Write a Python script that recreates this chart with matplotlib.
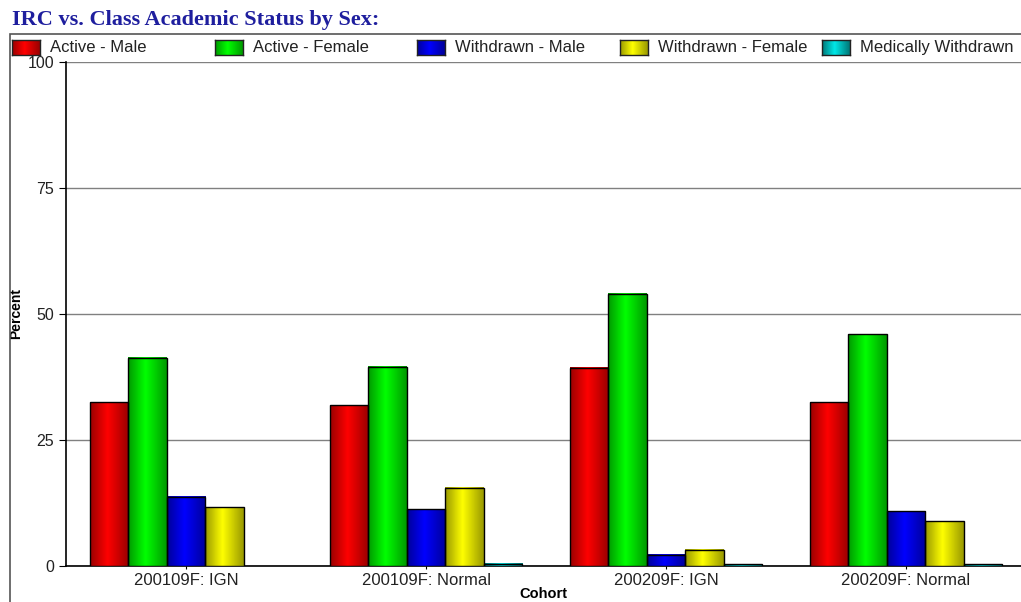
import numpy as np
import matplotlib.pyplot as plt
from matplotlib.colors import LinearSegmentedColormap
from matplotlib.patches import Rectangle

# dane
cohorts = ['200109F: IGN', '200109F: Normal', '200209F: IGN', '200209F: Normal']
series = ['Active - Male', 'Active - Female', 'Withdrawn - Male',
          'Withdrawn - Female', 'Medically Withdrawn']
active_male = [32.5, 31.9, 39.3, 32.5]
active_female = [41.3, 39.5, 54.0, 46.0]
withdrawn_male = [13.7, 11.3, 2.2, 10.9]
withdrawn_female = [11.7, 15.5, 3.2, 8.9]
medically_withdrawn = [0.0, 0.4, 0.3, 0.3]
values = [active_male, active_female, withdrawn_male, withdrawn_female, medically_withdrawn]

bright = ['#ff0000', '#00ff00', '#0000ff', '#ffff00', '#00e8e8']
dark = ['#9a0000', '#009a00', '#00009a', '#9a9a00', '#007878']

W, H = 1021, 602
fig = plt.figure(figsize=(W / 100, H / 100), dpi=100)
plt.rcParams['font.family'] = ['Liberation Sans', 'DejaVu Sans']

ax = fig.add_axes([66 / W, (H - 566) / H, (1021 - 66) / W, (566 - 62) / H])

x = np.arange(len(cohorts))
bw = 0.16
grad = np.linspace(0, 1, 64).reshape(1, -1)
cmaps = [LinearSegmentedColormap.from_list('g%d' % i, [(0, d), (0.45, b), (1, d)])
         for i, (b, d) in enumerate(zip(bright, dark))]
for i, vals in enumerate(values):
    pos = x - 2 * bw + i * bw
    bars = ax.bar(pos, vals, bw, color=bright[i], edgecolor='none', zorder=3)
    for r in bars:
        h = r.get_height()
        if h <= 0:
            continue
        ax.imshow(grad, extent=[r.get_x(), r.get_x() + r.get_width(), 0, h],
                  cmap=cmaps[i], aspect='auto', zorder=3.5, interpolation='bilinear')
    vis = [v if v > 0 else np.nan for v in vals]
    ax.bar(pos, vis, bw, fill=False, edgecolor='black', linewidth=1, zorder=4)

ax.set_xlim(-0.5, (1021 - 186) / 240)
ax.set_ylim(0, 100)
ax.set_yticks([0, 25, 50, 75, 100])
ax.set_xticks(x)
ax.set_xticklabels(cohorts, fontsize=12, color='#222222')
ax.tick_params(axis='y', labelsize=11.5, length=5, colors='black', labelcolor='#222222')
ax.tick_params(axis='x', length=2, pad=3)
ax.yaxis.grid(True, color='#808080', linewidth=1)
ax.set_axisbelow(True)
for s in ['top', 'right']:
    ax.spines[s].set_visible(False)
ax.spines['left'].set_linewidth(1.2)
ax.spines['bottom'].set_linewidth(1.2)

ax.set_ylabel('Percent', fontsize=10, fontweight='bold')
ax.yaxis.set_label_coords(-0.045, 0.5)
ax.set_xlabel('Cohort', fontsize=10.5, fontweight='bold')
ax.xaxis.set_label_coords(0.5, -0.041)
ax.xaxis.label.set_va('top')

# tytul
fig.text(12 / W, 1 - 20 / H, 'IRC vs. Class Academic Status by Sex:', fontsize=16,
         fontweight='bold', family='Liberation Serif', color='#1e1e9e', va='center')

# ramka zewnetrzna
fig.patches.append(Rectangle((10 / W, -0.1), 1.1, 1 - 34 / H + 0.1, transform=fig.transFigure,
                             fill=False, edgecolor='#555555', linewidth=1.2, zorder=0))

# legenda
for i, lab in enumerate(series):
    x0 = 12 + i * 202.5
    lax = fig.add_axes([x0 / W, 1 - 55 / H, 28 / W, 15 / H])
    lax.imshow(grad, cmap=cmaps[i], aspect='auto', interpolation='bilinear')
    lax.set_xticks([])
    lax.set_yticks([])
    for s in lax.spines.values():
        s.set_edgecolor('#222222')
        s.set_linewidth(1)
    fig.text((x0 + 38) / W, 1 - 52 / H, lab, fontsize=12, color='#222222', va='baseline')

fig.savefig('out.png', dpi=100)
